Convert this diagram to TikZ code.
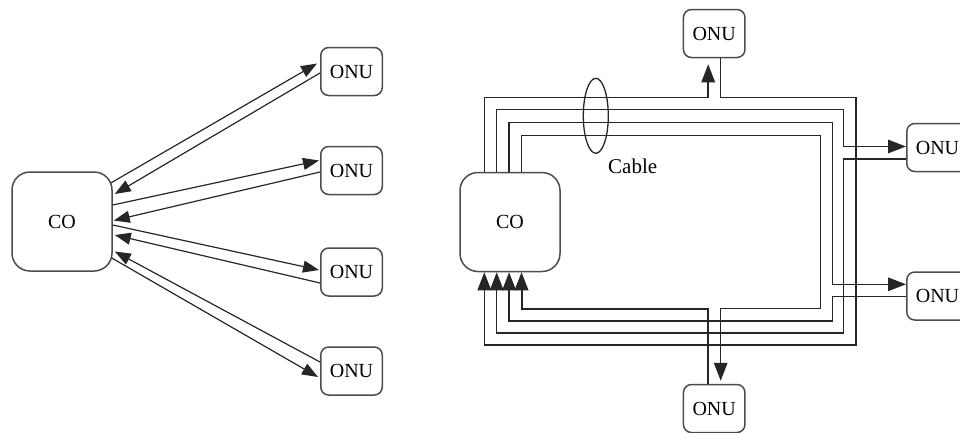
\documentclass[tikz,border=0pt]{standalone}
\usepackage{fontspec}
\setmainfont{Liberation Serif}
\usetikzlibrary{arrows.meta}
\tikzset{
  arr/.style={-{Triangle[length=16pt,width=12pt]}, line width=1.2pt, draw=black!85},
  warr/.style={-{Triangle[length=18pt,width=13.5pt]}, line width=1.5pt, draw=black!85},
  onu/.style={draw=black!70, line width=1.5pt, rounded corners=8pt, minimum width=61.5pt,
    minimum height=48pt, inner sep=0pt, font=\fontsize{20}{24}\selectfont},
  co/.style={draw=black!70, line width=1.5pt, rounded corners=18pt, minimum width=100pt,
    minimum height=99pt, inner sep=0pt, font=\fontsize{20}{24}\selectfont},
  cab/.style={draw=black!85, line width=1.3pt},
  lbl/.style={inner sep=0pt, font=\fontsize{21}{25}\selectfont}
}
\begin{document}
\begin{tikzpicture}[x=1pt, y=-1pt]
\useasboundingbox (0,0) rectangle (960,432);
% ---------- left: point-to-point star ----------
\node[co]  (co)   at (62,221.5)  {CO};
\node[onu] (onu1) at (351.5,71.5) {ONU};
\node[onu] (onu2) at (351.5,170.5) {ONU};
\node[onu] (onu3) at (351.5,272) {ONU};
\node[onu] (onu4) at (351.5,371) {ONU};
% down- and upstream fibre pairs
\draw[arr] ([xshift=-2,yshift=38.5]co.east) -- ([xshift=-3,yshift=8]onu1.west);
\draw[arr] ([yshift=-1.5]onu1.west) -- ([xshift=2,yshift=27.5]co.east);
\draw[arr] ([yshift=16.5]co.east) -- ([xshift=-1,yshift=10]onu2.west);
\draw[arr] ([yshift=-1.5]onu2.west) -- ([xshift=1,yshift=1]co.east);
\draw[arr] ([yshift=-3.5]co.east) -- ([xshift=-1,yshift=2]onu3.west);
\draw[arr] ([yshift=-11]onu3.west) -- ([xshift=2,yshift=-13.5]co.east);
\draw[arr] ([xshift=-1,yshift=-36.5]co.east) -- ([xshift=-2,yshift=-6]onu4.west);
\draw[arr] ([yshift=9]onu4.west) -- ([xshift=2,yshift=-30]co.east);
% ---------- right: ring cable ----------
\node[co]  (cor)  at (510,222)     {CO};
\node[onu] (onut) at (714.2,33.5)  {ONU};
\node[onu] (onur1) at (937.5,147.5) {ONU};
\node[onu] (onur2) at (937.5,296)  {ONU};
\node[onu] (onub) at (714.2,408.5) {ONU};
% track 1 (outer) -- top ONU
\draw[warr] ([xshift=-25.7]cor.north) |- (708.2,97.5) -- ([xshift=-6,yshift=-6]onut.south);
\draw[warr] ([xshift=6.5]onut.south) |- (856,97.5) |- (484.3,345) -- ([xshift=-25.7]cor.south);
% track 2 -- upper right ONU
\draw[warr] ([xshift=-13.3]cor.north) |- (843.5,109.5) |- ([yshift=1]onur1.west);
\draw[warr] ([yshift=-11.5]onur1.west) -| (843.5,333) -| ([xshift=-13.3]cor.south);
% track 3 -- lower right ONU
\draw[warr] ([xshift=-0.9]cor.north) |- (832.3,122.7) |- ([yshift=11.7]onur2.west);
\draw[warr] ([yshift=-0.7]onur2.west) -| (832.3,321) -| ([xshift=-0.9]cor.south);
% track 4 (inner) -- bottom ONU
\draw[warr] ([xshift=11.5]cor.north) |- (820.7,135.7) |- (720.7,308.5)
  -- ([xshift=6.5,yshift=3]onub.north);
\draw[warr, line width=2pt] ([xshift=-6]onub.north) |- (521.5,308.5) -- ([xshift=11.5]cor.south);
% cable bundle
\draw[cab] (595.8,115.8) ellipse [x radius=12.5, y radius=37.5];
\node[lbl, anchor=base west] (cable) at (608,173) {Cable};
\end{tikzpicture}
\end{document}
